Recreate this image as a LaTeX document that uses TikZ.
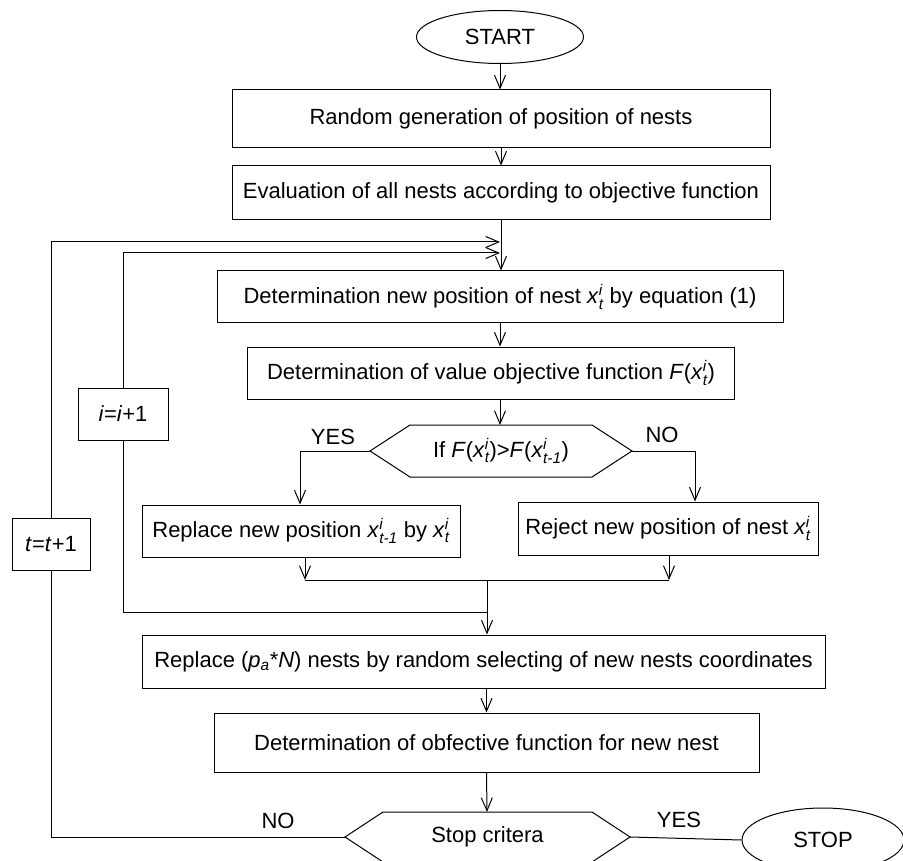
\documentclass[tikz,border=0pt]{standalone}
\usepackage{amsmath}
\usepackage{fontspec}
\setmainfont{Liberation Sans}
\usetikzlibrary{arrows.meta, shapes.geometric}
\newcommand{\xv}[2]{\textit{x}$^{\textit{#1}}_{\textit{#2}}$}

\begin{document}
\begin{tikzpicture}[x=1pt, y=-1pt, line width=1pt,
    font=\fontsize{22}{26}\selectfont,
    box/.style={draw, rectangle, inner sep=0pt},
    oval/.style={draw, ellipse, inner sep=0pt},
    arr/.style={-{Straight Barb[length=13pt,width=11pt]}}]
    \useasboundingbox (0,0) rectangle (903,861);
    \clip (0,0) rectangle (903,861);

    \node[oval, minimum width=167, minimum height=53] (start) at (500,37) {START};
    \node[box, minimum width=538, minimum height=58] (gen) at (501,119) {Random generation of position of nests};
    \node[box, minimum width=538, minimum height=54] (eval) at (501,193) {Evaluation of all nests according to objective function};
    \node[box, minimum width=566, minimum height=52] (det) at (500,297) {Determination new position of nest \xv{i}{t} by equation (1)};
    \node[box, minimum width=487, minimum height=52] (val) at (491,373) {Determination of value objective function \textit{F}(\xv{i}{t})};

    \coordinate (cmpL) at (370,451);
    \coordinate (cmpR) at (632,451);
    \coordinate (cmpT) at (500,425);
    \node (cmp) at (501,451) {If \textit{F}(\xv{i}{t})>\textit{F}(\xv{i}{t-1})};
    \draw (cmpL) -- ++(40,-26) -- ++(182,0) -- (cmpR) -- ++(-40,26) -- ++(-182,0) -- cycle;

    \node[box, minimum width=318, minimum height=52] (rep) at (301,531) {Replace new position \xv{i}{t-1} by \xv{i}{t}};
    \node[box, minimum width=300, minimum height=53] (rej) at (668,528.5) {Reject new position of nest \xv{i}{t}};
    \node[box, minimum width=90, minimum height=52] (ii) at (123,414) {\textit{i}=\textit{i}+1};
    \node[box, minimum width=78, minimum height=52] (tt) at (51,544) {\textit{t}=\textit{t}+1};

    \node[box, minimum width=683, minimum height=53] (sel) at (483.5,661.5) {Replace (\textit{p}$_{\textit{a}}$*\textit{N}) nests by random selecting of new nests coordinates};
    \node[box, minimum width=545, minimum height=59] (obj) at (486.5,742.5) {Determination of obfective function for new nest};

    \coordinate (stopL) at (345,837);
    \coordinate (stopR) at (630,837);
    \coordinate (stopT) at (487,812);
    \node (crit) at (487.5,837) {Stop critera};
    \draw (stopL) -- ++(38,-25) -- ++(209,0) -- (stopR) -- ++(-38,25) -- ++(-209,0) -- cycle;
    \node[oval, minimum width=162, minimum height=64] (stop) at (823,840) {STOP};

    \node (yesA) at (333,437) {YES};
    \node (noA) at (662,435) {NO};
    \node (noB) at (278,821) {NO};
    \node (yesB) at (679,820) {YES};

    \coordinate (tin) at (500,242);
    \coordinate (iin) at (500,253);
    \coordinate (mrg) at (487,580);
    \coordinate (iloop) at (487,612);

    \draw[arr] (start.south) -- (start.south |- gen.north);
    \draw[arr] (gen.south) -- (gen.south |- eval.north);
    \draw[arr] (eval.south) -- (eval.south |- det.north);
    \draw[arr] (det.south) -- (det.south |- val.north);
    \draw[arr] (val.south -| cmpT) -- (cmpT);
    \draw[arr] (cmpL) -| ([xshift=-1pt]rep.north);
    \draw[arr] (cmpR) -| ([xshift=27pt]rej.north);
    \draw[arr] ([xshift=4pt]rep.south) -- ([xshift=4pt]rep.south |- mrg);
    \draw[arr] ([xshift=1pt]rej.south) -- ([xshift=1pt]rej.south |- mrg);
    \draw ([xshift=4pt]rep.south |- mrg) -- ([xshift=1pt]rej.south |- mrg);
    \draw[arr] (mrg) -- (mrg |- sel.north);
    \draw (iloop) -| (ii.south);
    \draw[arr] (ii.north) |- (iin);
    \draw[arr] (obj.north |- sel.south) -- (obj.north);
    \draw[arr] (obj.south) -- (stopT);
    \draw (stopR) -- (stop.west);
    \draw (stopL) -| (tt.south);
    \draw[arr] (tt.north) |- (tin);
\end{tikzpicture}
\end{document}
